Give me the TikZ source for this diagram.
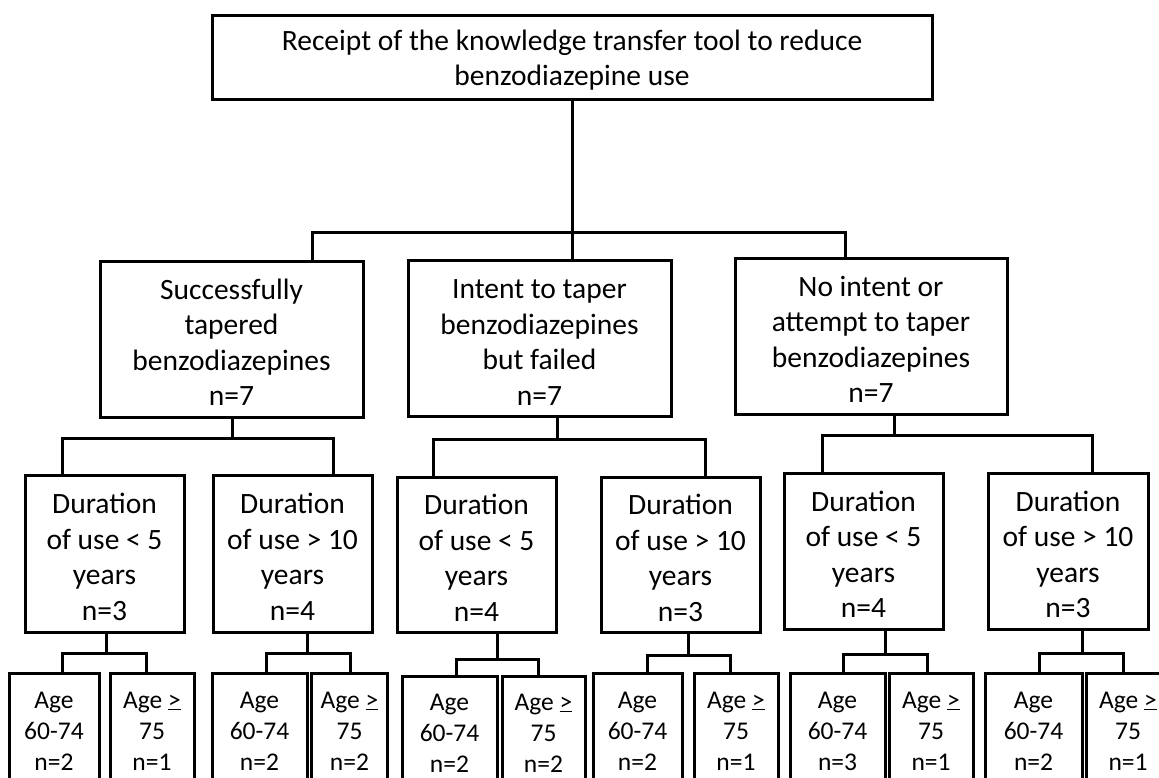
\documentclass[tikz,border=0pt]{standalone}
\usepackage{fontspec}
\setmainfont{Carlito}
% taller first line, so that the text sits a little lower in its box
\newcommand{\firstline}{\rule{0pt}{0.92em}}
\begin{document}
\begin{tikzpicture}[x=1pt,y=-1pt,
  box/.style={draw=black, line width=3pt, inner sep=0pt, align=center, fill=white},
  bigtext/.style={font=\fontsize{29.5}{35.5}\selectfont},
  smalltext/.style={font=\fontsize{25.5}{31}\selectfont},
  link/.style={draw=black, line width=3pt, line join=miter}]
\useasboundingbox (0,0) rectangle (1159,777);
\clip (0,0) rectangle (1159,777);

% root
\node[box, bigtext, minimum width=720pt, minimum height=84pt] (top) at (572,57)
  {\firstline Receipt of the knowledge transfer tool to reduce\\benzodiazepine use};

% outcome groups
\node[box, bigtext, minimum width=263pt, minimum height=156pt] (A) at (231.5,339)
  {\firstline Successfully\\tapered\\benzodiazepines\\n=7};
\node[box, bigtext, minimum width=263pt, minimum height=156pt] (B) at (539.5,338.5)
  {\firstline Intent to taper\\benzodiazepines\\but failed\\n=7};
\node[box, bigtext, minimum width=272pt, minimum height=156pt] (C) at (871,336)
  {\firstline No intent or\\attempt to taper\\benzodiazepines\\n=7};

% duration of use
\node[box, bigtext, minimum width=159pt, minimum height=157pt] (D) at (104.5,553.5)
  {\firstline Duration\\of use < 5\\years\\n=3};
\node[box, bigtext, minimum width=159pt, minimum height=157pt] (E) at (292.5,553.5)
  {\firstline Duration\\of use > 10\\years\\n=4};
\node[box, bigtext, minimum width=159pt, minimum height=155pt] (F) at (476.5,554.5)
  {\firstline Duration\\of use < 5\\years\\n=4};
\node[box, bigtext, minimum width=159pt, minimum height=155pt] (G) at (680.5,554.5)
  {\firstline Duration\\of use > 10\\years\\n=3};
\node[box, bigtext, minimum width=159pt, minimum height=156pt] (H) at (863.5,551)
  {\firstline Duration\\of use < 5\\years\\n=4};
\node[box, bigtext, minimum width=160pt, minimum height=156pt] (I) at (1068,551)
  {\firstline Duration\\of use > 10\\years\\n=3};

% age groups
\node[box, smalltext, minimum width=90pt, minimum height=116pt] (D1) at (54,731) {Age\\60-74\\n=2};
\node[box, smalltext, minimum width=84pt, minimum height=116pt] (D2) at (152,731) {Age \underline{>}\\75\\n=1};
\node[box, smalltext, minimum width=95pt, minimum height=116pt] (E1) at (259.5,731) {Age\\60-74\\n=2};
\node[box, smalltext, minimum width=76pt, minimum height=116pt] (E2) at (349.5,731) {Age \underline{>}\\75\\n=2};
\node[box, smalltext, minimum width=95pt, minimum height=114pt] (F1) at (449.5,733) {Age\\60-74\\n=2};
\node[box, smalltext, minimum width=83pt, minimum height=114pt] (F2) at (543.5,733) {Age \underline{>}\\75\\n=2};
\node[box, smalltext, minimum width=89pt, minimum height=116pt] (G1) at (637.5,731) {Age\\60-74\\n=2};
\node[box, smalltext, minimum width=84pt, minimum height=116pt] (G2) at (736,731) {Age \underline{>}\\75\\n=1};
\node[box, smalltext, minimum width=95pt, minimum height=116pt] (H1) at (837.5,731) {Age\\60-74\\n=3};
\node[box, smalltext, minimum width=84pt, minimum height=116pt] (H2) at (931,731) {Age \underline{>}\\75\\n=1};
\node[box, smalltext, minimum width=97pt, minimum height=116pt] (I1) at (1033.5,731) {Age\\60-74\\n=2};
\node[box, smalltext, minimum width=84pt, minimum height=116pt] (I2) at (1128,731) {Age \underline{>}\\75\\n=1};

% root to outcome groups
\draw[link] (top.south) -- (B.north -| top.south);
\draw[link] (A.north -| 312,0) |- (845,232) -- (C.north -| 845,0);

% outcome groups to duration boxes
\draw[link] (A.south -| 232,0) -- (232,438);
\draw[link] (D.north -| 62,0) |- (333,438) -- (E.north -| 333,0);
\draw[link] (B.south -| 557,0) -- (557,439);
\draw[link] (F.north -| 433,0) |- (705,439) -- (G.north -| 705,0);
\draw[link] (C.south -| 894,0) -- (894,435);
\draw[link] (H.north -| 822,0) |- (1092,435) -- (I.north -| 1092,0);

% duration boxes to age boxes
\draw[link] (D.south -| 106,0) -- (106,653);
\draw[link] (D1.north -| 62,0) |- (146,653) -- (D2.north -| 146,0);
\draw[link] (E.south -| 307,0) -- (307,653);
\draw[link] (E1.north -| 266,0) |- (350,653) -- (E2.north -| 350,0);
\draw[link] (F.south -| 497,0) -- (497,659);
\draw[link] (F1.north -| 456,0) |- (538,659) -- (F2.north -| 538,0);
\draw[link] (G.south -| 688,0) -- (688,655);
\draw[link] (G1.north -| 647,0) |- (730,655) -- (G2.north -| 730,0);
\draw[link] (H.south -| 885,0) -- (885,654);
\draw[link] (H1.north -| 843,0) |- (927,654) -- (H2.north -| 927,0);
\draw[link] (I.south -| 1082,0) -- (1082,653);
\draw[link] (I1.north -| 1039,0) |- (1123,653) -- (I2.north -| 1123,0);
\end{tikzpicture}
\end{document}
